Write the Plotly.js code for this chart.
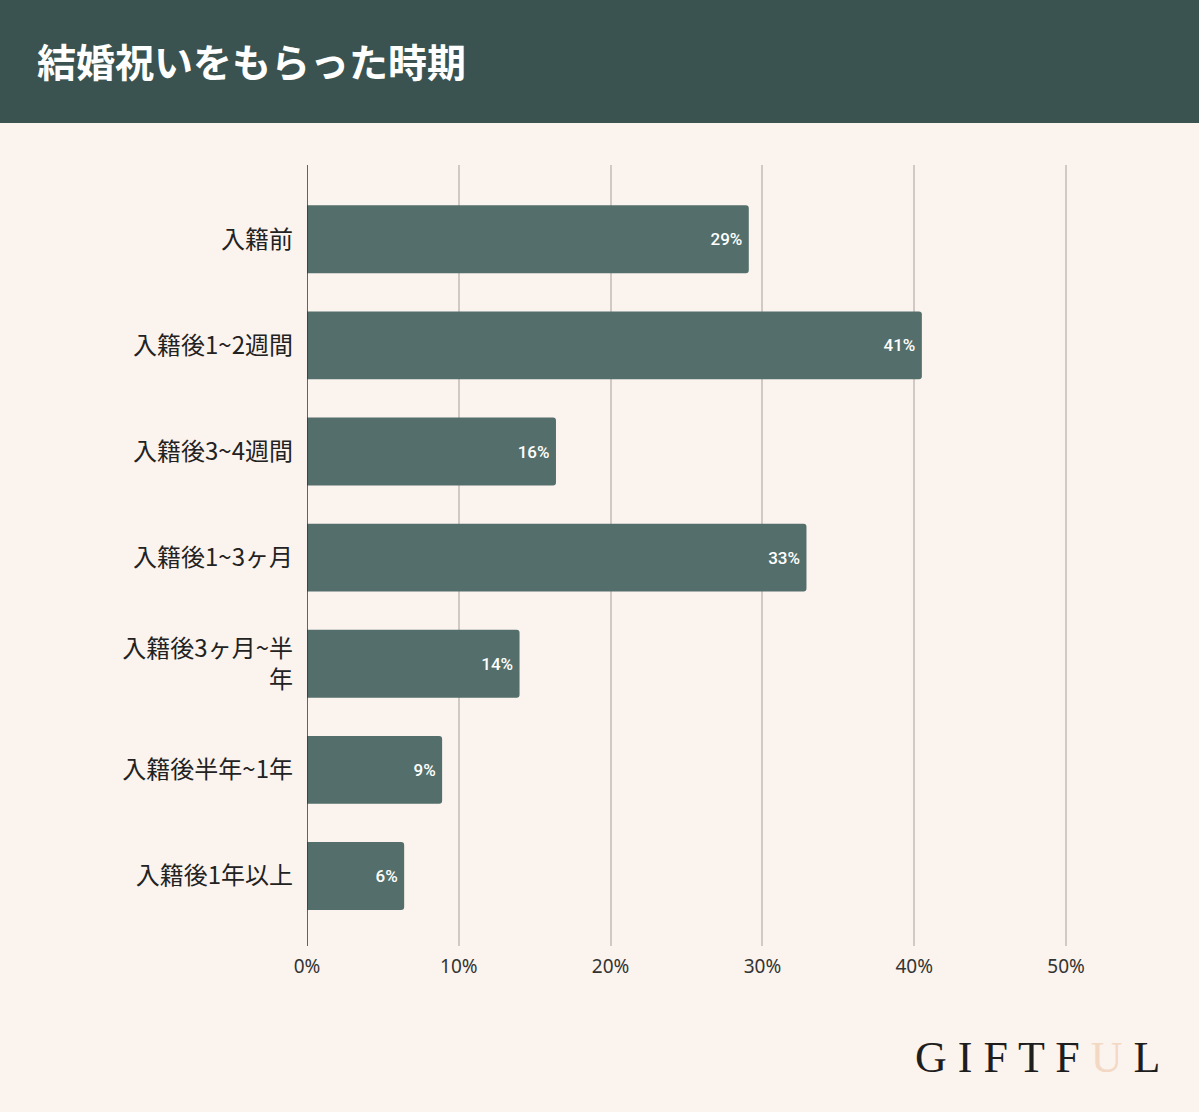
<!DOCTYPE html>
<html>
<head>
<meta charset="utf-8">
<script src="https://cdn.plot.ly/plotly-3.0.1.min.js"></script>
<style>html,body{margin:0;padding:0;background:#FBF3EE;}</style>
</head>
<body>
<div id="chart" style="width:1199px;height:1112px;"></div>
<script>
const categories = ["入籍前", "入籍後1~2週間", "入籍後3~4週間", "入籍後1~3ヶ月", "入籍後3ヶ月~半<br>年", "入籍後半年~1年", "入籍後1年以上"];
const values = [29.1, 40.5, 16.4, 32.9, 14.0, 8.9, 6.4];
const labels = ["29%", "41%", "16%", "33%", "14%", "9%", "6%"];
const xTickVals = [0, 10, 20, 30, 40, 50];
const xTickText = ["0%", "10%", "20%", "30%", "40%", "50%"];
const chartTitle = "結婚祝いをもらった時期";

const trace = {
  type: "bar",
  orientation: "h",
  y: categories,
  x: values,
  text: labels.map(t => t + "\u2009"),
  textposition: "inside",
  insidetextanchor: "end",
  textangle: 0,
  textfont: {family: "Roboto, 'Noto Sans', sans-serif", size: 17, color: "#ffffff", weight: 500},
  marker: {color: "#546F6B"},
  width: 0.64,
  hoverinfo: "none",
  cliponaxis: false
};

const layout = {
  width: 1199,
  height: 1112,
  paper_bgcolor: "#FBF3EE",
  plot_bgcolor: "rgba(0,0,0,0)",
  margin: {l: 307, r: 57, t: 165, b: 166},
  showlegend: false,
  barcornerradius: 3,
  title: {
    text: chartTitle,
    x: 37/1199, xanchor: "left", xref: "container",
    y: 1 - 63/1112, yanchor: "middle", yref: "container",
    font: {family: "'Noto Sans CJK JP', sans-serif", size: 39, color: "#ffffff", weight: 700}
  },
  xaxis: {
    range: [0, 55],
    tickvals: xTickVals,
    ticktext: xTickText,
    showgrid: true,
    gridcolor: "#D2C9C5",
    gridwidth: 2,
    zeroline: false,
    showline: false,
    ticks: "",
    ticklabelstandoff: 7,
    tickfont: {family: "'Noto Sans', sans-serif", size: 19, color: "#333333"},
    fixedrange: true
  },
  yaxis: {
    type: "category",
    range: [6.66, -0.7],
    showgrid: false,
    zeroline: false,
    showline: false,
    ticks: "",
    ticklabelstandoff: 13,
    tickfont: {family: "'Noto Sans CJK JP', sans-serif", size: 24, color: "#222222"},
    fixedrange: true
  },
  shapes: [
    {type: "rect", xref: "paper", yref: "paper", x0: -1, x1: 2, y0: (946-123)/781, y1: 1.4, fillcolor: "#3A5350", line: {width: 0}, layer: "below"},
    {type: "line", xref: "x", yref: "paper", x0: 0, x1: 0, y0: 0, y1: 1, line: {color: "#333333", width: 1.5}, layer: "above"}
  ],
  annotations: [
    {
      text: "G I F T F <span style='color:#F3D9C4'>U</span> L",
      xref: "paper", yref: "paper",
      x: (1162-307)/835, xanchor: "right",
      y: (946-1057)/781, yanchor: "middle",
      showarrow: false,
      font: {family: "'Liberation Serif', serif", size: 44, color: "#1E1E1E"}
    }
  ]
};

Plotly.newPlot("chart", [trace], layout, {displayModeBar: false, staticPlot: true});
</script>
</body>
</html>
